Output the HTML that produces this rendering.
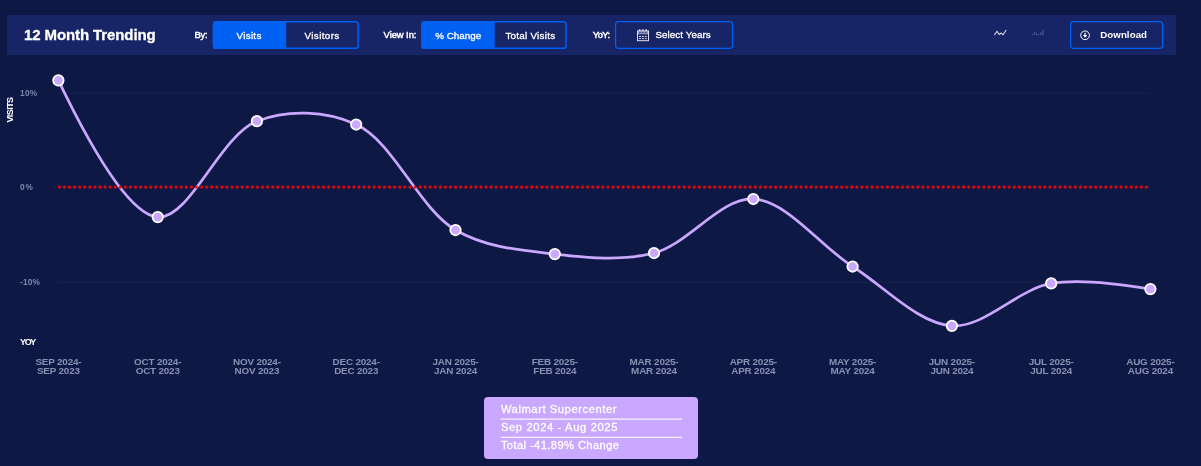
<!DOCTYPE html>
<html><head><meta charset="utf-8"><title>12 Month Trending</title>
<style>
html,body{margin:0;padding:0;}
body{width:1201px;height:466px;background:#0e1845;overflow:hidden;position:relative;font-family:"Liberation Sans",sans-serif;color:#fff;}
.abs{position:absolute;}
#hdr{position:absolute;left:7px;top:15px;width:1169px;height:40px;background:#172465;}
#title{position:absolute;left:24px;top:26px;line-height:18px;white-space:nowrap;}
.lbl{position:absolute;top:28.5px;line-height:12px;white-space:nowrap;}
.tg{position:absolute;top:21px;height:28px;box-sizing:border-box;border:1.2px solid transparent;}
.tg div{position:absolute;top:-1.2px;height:28px;line-height:29.8px;text-align:center;white-space:nowrap;}
.btn{position:absolute;top:21px;height:28px;box-sizing:border-box;border:1.2px solid transparent;}
.btn span{position:absolute;top:-1.2px;line-height:28.4px;white-space:nowrap;}
.yl{position:absolute;left:20px;line-height:10px;color:#8086ab;white-space:nowrap;}
.xl{position:absolute;top:356.7px;width:100px;text-align:center;font-size:9.9px;font-weight:bold;letter-spacing:-0.18px;line-height:9.4px;color:#8a90b2;white-space:nowrap;}
#legend{position:absolute;left:483.7px;top:397px;width:214.6px;height:61.8px;background:#caa8ff;border-radius:4px;}
#legend div{position:absolute;left:17.2px;width:181px;height:18.2px;line-height:16.5px;color:#fff;white-space:nowrap;box-sizing:border-box;}
</style></head><body>
<div id="hdr"></div>
<svg class="abs" style="left:0;top:0" width="1201" height="60" viewBox="0 0 1201 60"><path d="M216.4 21.0H285.9V49.0H216.4A3.6 3.6 0 0 1 212.8 45.4V24.6A3.6 3.6 0 0 1 216.4 21.0Z" fill="#0060f2"/><rect x="213.55" y="21.75" width="144.6" height="26.5" rx="2.85" fill="none" stroke="#0060f2" stroke-width="1.5"/><path d="M285.6 21.75V48.25" stroke="#0060f2" stroke-width="1.2"/><path d="M424.8 21.0H494.3V49.0H424.8A3.6 3.6 0 0 1 421.2 45.4V24.6A3.6 3.6 0 0 1 424.8 21.0Z" fill="#0060f2"/><rect x="421.95" y="21.75" width="144.1" height="26.5" rx="2.85" fill="none" stroke="#0060f2" stroke-width="1.5"/><path d="M494.0 21.75V48.25" stroke="#0060f2" stroke-width="1.2"/><rect x="615.6" y="21.6" width="116.9" height="26.8" rx="2.8" fill="none" stroke="#0060f2" stroke-width="1.2"/><rect x="1070.6" y="21.6" width="91.9" height="26.8" rx="2.8" fill="none" stroke="#0060f2" stroke-width="1.2"/></svg>
<div id="title" style="font-size:15px;letter-spacing:-0.102px;font-weight:bold;-webkit-text-stroke:0.3px currentColor;">12 Month Trending</div>
<div class="lbl" style="left:194.5px;font-size:9.4px;letter-spacing:-0.167px;-webkit-text-stroke:0.45px currentColor;">By:</div>
<div class="tg" style="left:212.7px;width:146px"><div class="on" style="left:-1.2px;width:72.2px;padding-left:1px;box-sizing:border-box;font-size:9.8px;letter-spacing:0.293px;-webkit-text-stroke:0.3px currentColor;">Visits</div><div style="left:71px;width:73.8px;border-left:1.2px solid transparent;box-sizing:border-box;font-size:9.8px;letter-spacing:0.393px;-webkit-text-stroke:0.3px currentColor;">Visitors</div></div>
<div class="lbl" style="left:383.6px;font-size:9.4px;letter-spacing:-0.045px;-webkit-text-stroke:0.45px currentColor;">View In:</div>
<div class="tg" style="left:421px;width:146px"><div class="on" style="left:-1.2px;width:72.2px;padding-left:2.6px;box-sizing:border-box;font-size:9.8px;letter-spacing:0.019px;-webkit-text-stroke:0.3px currentColor;">% Change</div><div style="left:71px;width:73.8px;border-left:1.2px solid transparent;box-sizing:border-box;font-size:9.8px;letter-spacing:0.277px;-webkit-text-stroke:0.3px currentColor;">Total Visits</div></div>
<div class="lbl" style="left:592.8px;font-size:9.4px;letter-spacing:-0.549px;-webkit-text-stroke:0.45px currentColor;">YoY:</div>
<div class="btn" style="left:615px;width:118px"><span style="left:39.5px;font-size:9.8px;letter-spacing:0.065px;-webkit-text-stroke:0.3px currentColor;">Select Years</span></div>
<svg class="abs" style="left:637px;top:29px" width="13" height="13" viewBox="0 0 13 13" fill="none" stroke="#e9ebf6" stroke-width="0.95">
<rect x="0.5" y="1.9" width="11" height="9.8"/><rect x="1" y="2.4" width="10" height="2.9" fill="#fff" fill-opacity="0.55" stroke="none"/>
<path d="M2.7 0.3V2M5.9 0.3V2M9.2 0.3V2" stroke-width="1.3"/><path d="M2 3.7H10" stroke="#172465" stroke-width="0.7" stroke-dasharray="2 0.9"/>
<path d="M2 7.5H10M2 9.6H10" stroke-dasharray="2 0.9" stroke-width="0.9"/>
</svg>
<svg class="abs" style="left:992px;top:27px" width="18" height="12" viewBox="0 0 18 12" fill="none" stroke="#dfe2f0" stroke-width="1.05" stroke-linecap="round" stroke-linejoin="round">
<path d="M2.6 7.8L5 4.2L7.2 7.5L9.2 6L11 7.8L14 3.2"/></svg>
<svg class="abs" style="left:1030px;top:27px" width="16" height="12" viewBox="0 0 16 12" fill="#4b5697">
<rect x="1.8" y="7" width="1.2" height="1.2"/><rect x="3.9" y="4.8" width="1.2" height="3.4"/><rect x="6" y="5.6" width="1.2" height="2.6"/><rect x="8.1" y="7" width="1.2" height="1.2"/><rect x="10.2" y="5.2" width="1.2" height="3"/><rect x="12.3" y="2.8" width="1.3" height="5.4"/>
</svg>
<div class="btn" style="left:1070px;width:93px"><span style="left:29.2px;font-size:9.7px;letter-spacing:0.080px;font-weight:bold;">Download</span></div>
<svg class="abs" style="left:1079px;top:29px" width="12" height="12" viewBox="0 0 12 12" fill="none" stroke="#fff" stroke-width="1">
<circle cx="6.05" cy="6.3" r="4.35"/><path d="M6.05 3.7V7.5" stroke-width="1.2"/><path d="M3.9 5.9L6.05 8.7L8.2 5.9Z" fill="#fff" stroke="none"/></svg>

<div style="position:absolute;left:10.1px;top:110px;transform:translate(-50%,-50%) rotate(-90deg);white-space:nowrap;line-height:10px;font-size:9px;letter-spacing:-0.562px;font-weight:bold;">VISITS</div>
<div class="yl" style="top:88px;font-size:8.3px;letter-spacing:0.296px;font-weight:bold;">10%</div>
<div class="yl" style="top:182px;font-size:8.3px;letter-spacing:0.806px;font-weight:bold;">0%</div>
<div class="yl" style="top:277px;font-size:8.3px;letter-spacing:0.209px;font-weight:bold;">-10%</div>
<div class="abs" style="left:20px;top:336.7px;line-height:10px;font-size:9px;letter-spacing:-1.354px;font-weight:bold;">YOY</div>
<svg class="abs" style="left:0;top:0" width="1201" height="466" viewBox="0 0 1201 466">
<path d="M58 93.2H1150.5M58 282.2H1150.5" stroke="#19234f" stroke-width="1" fill="none"/>
<path d="M58 187H1150.5" stroke="#1a2a56" stroke-width="1" fill="none"/>
<path d="M58.40 80.35 Q122.74 214.04 157.68 217.10 C189.26 219.87 220.66 135.18 256.95 121.20 C287.74 109.34 325.72 110.67 356.23 124.46 C393.08 141.11 418.98 208.71 455.50 229.97 C486.17 247.82 521.44 250.29 554.77 254.10 C587.63 257.85 621.96 261.35 654.05 253.00 C688.29 244.09 720.72 197.38 753.33 199.00 C786.94 200.66 819.19 245.19 852.60 266.50 C885.39 287.41 918.20 323.52 951.88 325.80 C984.42 328.00 1017.35 289.36 1051.15 283.45 Q1083.59 277.78 1150.43 289.13" stroke="#caa8ff" stroke-width="2.7" fill="none"/>
<path d="M58.1 187.05H1149" stroke="#ff0000" stroke-width="2.7" stroke-dasharray="2.45 2.63" fill="none"/>
<g fill="#caa8ff" stroke="#fff" stroke-width="1.75"><circle cx="58.4" cy="80.3" r="5.25"/><circle cx="157.7" cy="217.1" r="5.25"/><circle cx="256.9" cy="121.2" r="5.25"/><circle cx="356.2" cy="124.5" r="5.25"/><circle cx="455.5" cy="230.0" r="5.25"/><circle cx="554.8" cy="254.1" r="5.25"/><circle cx="654.0" cy="253.0" r="5.25"/><circle cx="753.3" cy="199.0" r="5.25"/><circle cx="852.6" cy="266.5" r="5.25"/><circle cx="951.9" cy="325.8" r="5.25"/><circle cx="1051.2" cy="283.4" r="5.25"/><circle cx="1150.4" cy="289.1" r="5.25"/></g>
</svg>
<div class="xl" style="left:8.4px">SEP 2024-<br>SEP 2023</div>
<div class="xl" style="left:107.7px">OCT 2024-<br>OCT 2023</div>
<div class="xl" style="left:206.9px">NOV 2024-<br>NOV 2023</div>
<div class="xl" style="left:306.2px">DEC 2024-<br>DEC 2023</div>
<div class="xl" style="left:405.5px">JAN 2025-<br>JAN 2024</div>
<div class="xl" style="left:504.8px">FEB 2025-<br>FEB 2024</div>
<div class="xl" style="left:604.0px">MAR 2025-<br>MAR 2024</div>
<div class="xl" style="left:703.3px">APR 2025-<br>APR 2024</div>
<div class="xl" style="left:802.6px">MAY 2025-<br>MAY 2024</div>
<div class="xl" style="left:901.9px">JUN 2025-<br>JUN 2024</div>
<div class="xl" style="left:1001.2px">JUL 2025-<br>JUL 2024</div>
<div class="xl" style="left:1100.4px">AUG 2025-<br>AUG 2024</div>

<div id="legend"><svg style="position:absolute;left:0;top:0" width="214" height="61" viewBox="0 0 214 61"><path d="M16.8 22.1H198M16.8 40.3H198" stroke="#fff" stroke-opacity="0.85" stroke-width="1.3" fill="none"/></svg><div style="top:4.3px;font-size:11.2px;letter-spacing:0.572px;-webkit-text-stroke:0.3px currentColor;">Walmart Supercenter</div><div style="top:22.3px;font-size:11.2px;letter-spacing:0.636px;-webkit-text-stroke:0.3px currentColor;">Sep 2024 - Aug 2025</div><div style="top:40.3px;font-size:11.2px;letter-spacing:0.393px;-webkit-text-stroke:0.3px currentColor;">Total -41.89% Change</div></div>
</body></html>
